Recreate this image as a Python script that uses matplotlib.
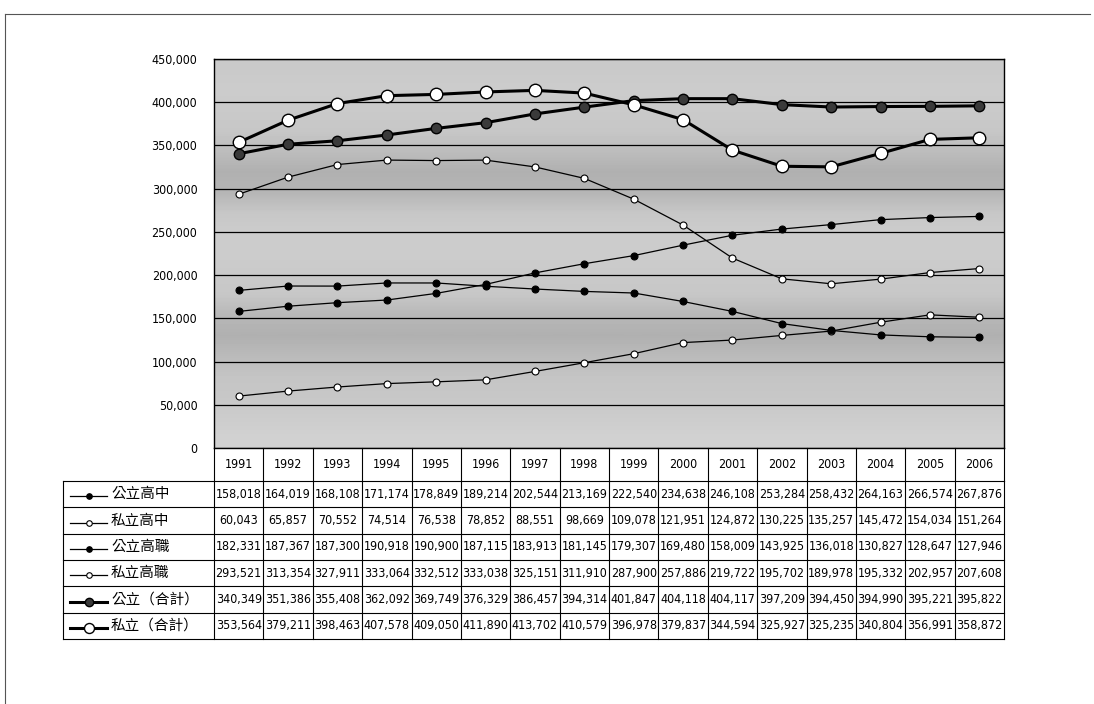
import matplotlib
matplotlib.use("Agg")
import matplotlib.pyplot as plt
import numpy as np
from matplotlib import font_manager

years = [str(y) for y in range(1991, 2007)]
series_names = ["公立高中", "私立高中", "公立高職", "私立高職", "公立（合計）", "私立（合計）"]

pub_hs = [158018, 164019, 168108, 171174, 178849, 189214, 202544, 213169,
          222540, 234638, 246108, 253284, 258432, 264163, 266574, 267876]
priv_hs = [60043, 65857, 70552, 74514, 76538, 78852, 88551, 98669,
           109078, 121951, 124872, 130225, 135257, 145472, 154034, 151264]
pub_voc = [182331, 187367, 187300, 190918, 190900, 187115, 183913, 181145,
           179307, 169480, 158009, 143925, 136018, 130827, 128647, 127946]
priv_voc = [293521, 313354, 327911, 333064, 332512, 333038, 325151, 311910,
            287900, 257886, 219722, 195702, 189978, 195332, 202957, 207608]
pub_total = [340349, 351386, 355408, 362092, 369749, 376329, 386457, 394314,
             401847, 404118, 404117, 397209, 394450, 394990, 395221, 395822]
priv_total = [353564, 379211, 398463, 407578, 409050, 411890, 413702, 410579,
              396978, 379837, 344594, 325927, 325235, 340804, 356991, 358872]

all_values = [pub_hs, priv_hs, pub_voc, priv_voc, pub_total, priv_total]

styles = [
    dict(color="black", lw=0.9, marker="o", ms=5, mfc="black", mec="black", mew=0.8),
    dict(color="black", lw=0.9, marker="o", ms=5, mfc="white", mec="black", mew=0.8),
    dict(color="black", lw=0.9, marker="o", ms=5, mfc="black", mec="black", mew=0.8),
    dict(color="black", lw=0.9, marker="o", ms=5, mfc="white", mec="black", mew=0.8),
    dict(color="black", lw=2.2, marker="o", ms=7.5, mfc="#3a3a3a", mec="black", mew=1.0),
    dict(color="black", lw=2.2, marker="o", ms=9, mfc="white", mec="black", mew=1.0),
]

# pick a narrow face for the numbers by file, if one is installed
files = [f.fname for f in font_manager.fontManager.ttflist]
num_prop = font_manager.FontProperties(family="Liberation Sans", size=8.8)
for key, size in [("LiberationSansNarrow-Regular", 10), ("DejaVuSansCondensed.ttf", 8.9)]:
    hits = [p for p in files if key in p]
    if hits:
        num_prop = font_manager.FontProperties(fname=hits[0], size=size)
        break
cjk_font = ["Noto Sans CJK TC", "DejaVu Sans"]

W, H = 1094, 704
fig = plt.figure(figsize=(W / 100, H / 100), dpi=100)

# outer frame of the scanned page
fig.add_artist(plt.Line2D([5 / W, 1090 / W], [1 - 14 / H, 1 - 14 / H],
                          color="#555555", lw=0.8, transform=fig.transFigure))
fig.add_artist(plt.Line2D([5 / W, 5 / W], [1 - 14 / H, 0], color="#555555",
                          lw=0.8, transform=fig.transFigure))

left, right, top, bottom = 214, 1004, 59, 448
ax = fig.add_axes([left / W, 1 - bottom / H, (right - left) / W, (bottom - top) / H])
x = np.arange(len(years))

# gray gradient background like the scanned excel fill (bottom -> top)
shade = np.array([0.82, 0.80, 0.78, 0.77, 0.73, 0.69, 0.72, 0.78, 0.79, 0.80,
                  0.80, 0.78, 0.71, 0.69, 0.74, 0.78, 0.79, 0.80, 0.79])
ax.imshow(shade[:, None], cmap="gray", vmin=0, vmax=1, aspect="auto",
          extent=(-0.5, len(years) - 0.5, 0, 450000), origin="lower",
          interpolation="bilinear", zorder=0)

for vals, st in zip(all_values, styles):
    ax.plot(x, vals, zorder=3, **st)

ax.set_xlim(-0.5, len(years) - 0.5)
ax.set_ylim(0, 450000)
ax.set_yticks(np.arange(0, 450001, 50000))
ax.set_yticklabels([f"{v:,}" for v in range(0, 450001, 50000)], fontproperties=num_prop)
ax.yaxis.grid(True, color="black", lw=0.9)
ax.set_axisbelow(False)
for g in ax.get_ygridlines():
    g.set_zorder(1)
ax.tick_params(axis="y", length=0, pad=12)
ax.set_xticks([])
for sp in ax.spines.values():
    sp.set_color("black")
    sp.set_linewidth(1.0)

# data table below the plot
tab_left, tab_bottom = 63, 639
unit = (right - left) / len(years)
x0 = -0.5 - (left - tab_left) / unit
tab = fig.add_axes([tab_left / W, 1 - tab_bottom / H, (right - tab_left) / W,
                    (tab_bottom - bottom) / H])
tab.set_xlim(x0, len(years) - 0.5)
tab.set_ylim(tab_bottom, bottom)
tab.axis("off")

head_bot = 481
row_h = (tab_bottom - head_bot) / len(series_names)
lkw = dict(color="black", lw=0.8, clip_on=False)

# header
for k in range(len(years) + 1):
    tab.plot([k - 0.5, k - 0.5], [bottom, head_bot], **lkw)
for i, yr in enumerate(years):
    tab.text(i, (bottom + head_bot) / 2, yr, ha="center", va="center",
             fontproperties=num_prop)

# body grid
for r in range(len(series_names) + 1):
    yy = head_bot + r * row_h
    tab.plot([x0, len(years) - 0.5], [yy, yy], **lkw)
for xx in [x0] + [k - 0.5 for k in range(len(years) + 1)]:
    tab.plot([xx, xx], [head_bot, tab_bottom], **lkw)

for r, (name, vals, st) in enumerate(zip(series_names, all_values, styles)):
    yc = head_bot + (r + 0.5) * row_h
    g0 = x0 + 7 / unit
    g1 = x0 + 44 / unit
    gm = (g0 + g1) / 2
    tab.plot([g0, g1], [yc + 2, yc + 2], color="black", lw=st["lw"])
    tab.plot([gm], [yc + 2], ls="none", marker="o", ms=st["ms"] * 0.8,
             mfc=st["mfc"], mec=st["mec"], mew=st["mew"])
    tab.text(x0 + 48 / unit, yc, name, ha="left", va="center",
             family=cjk_font, fontsize=10.5)
    for i, v in enumerate(vals):
        tab.text(i, yc, f"{v:,}", ha="center", va="center", fontproperties=num_prop)

fig.savefig("out.png", dpi=100, facecolor="white")
